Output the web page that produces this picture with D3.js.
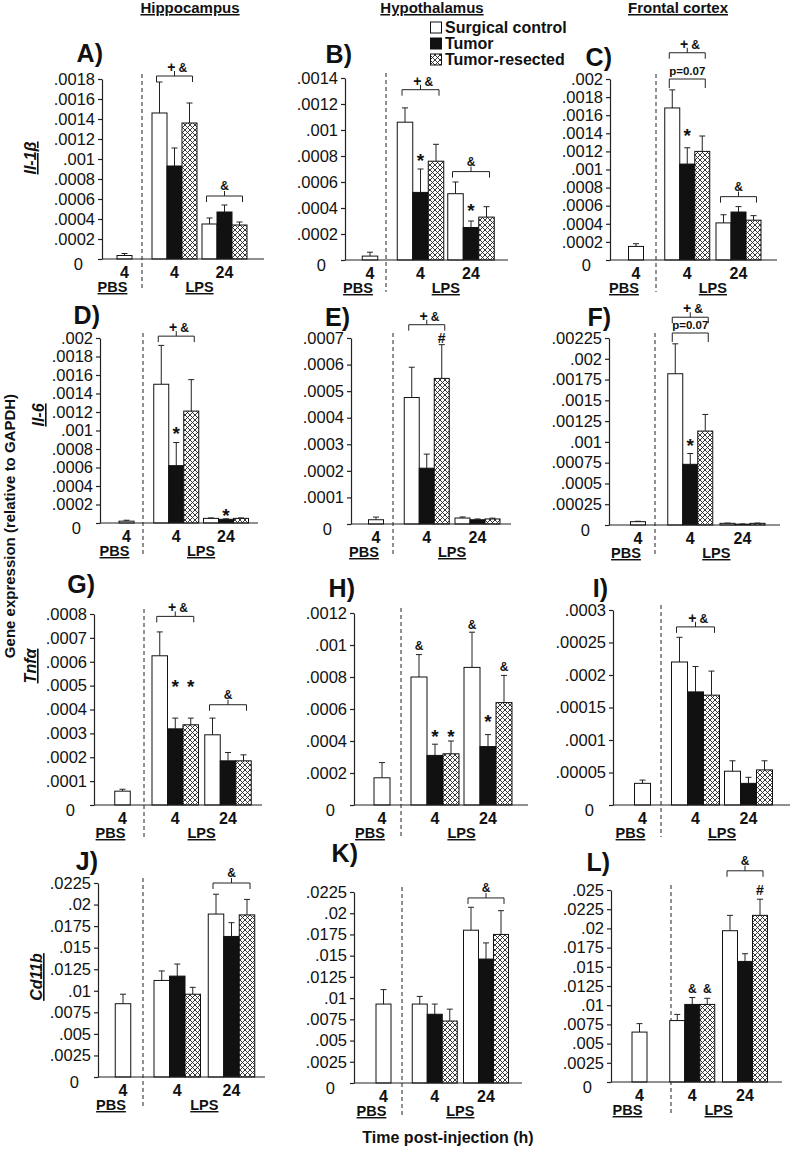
<!DOCTYPE html>
<html>
<head>
<meta charset="utf-8">
<script src="https://cdn.jsdelivr.net/npm/d3@7"></script>
<style>
body { margin: 0; background: #fff; }
svg text { font-family: "Liberation Sans", Arial, sans-serif; fill: #111; }
</style>
</head>
<body>
<svg id="chart" width="790" height="1149"></svg>
<script>
// ---- data ----
const regions = ["Hippocampus", "Hypothalamus", "Frontal cortex"];
const genes = ["Il-1\u03B2", "Il-6", "Tnf\u03B1", "Cd11b"];
const series = ["Surgical control", "Tumor", "Tumor-resected"];
const groups = ["PBS 4", "LPS 4", "LPS 24"];
const groupTicks = ["4", "4", "24"];
const panelIds = ["A", "B", "C", "D", "E", "F", "G", "H", "I", "J", "K", "L"];

const yMax  = [.0018, .0014, .002, .002, .0007, .00225, .0008, .0012, .0003, .0225, .0225, .025];
const yStep = [.0002, .0002, .0002, .0002, .0001, .00025, .0001, .0002, .00005, .0025, .0025, .0025];

// PBS 4h (surgical control only)
const pbsMean = [.000035, .00003, .00015, .00002, .000016, .00004, .000058, .00017, .0000333, .0085, .0093, .0065];
const pbsSem  = [.00002, .00003, .00003, .00001, .00001, .000005, .000008, .000095, .000005, .0011, .0017, .0011];

// LPS 4h: [surgical control, tumor, tumor-resected]
const lps4Mean = [
  [.00146, .00093, .00136], [.00106, .00052, .00076], [.00168, .00106, .0012],
  [.0015, .00062, .00121], [.000476, .00021, .000548], [.00182, .00073, .00113],
  [.000625, .000319, .000336], [.0008, .00031, .00032], [.00022, .000174, .000169],
  [.0112, .0117, .0096], [.0093, .0081, .0073], [.008, .0101, .0101]
];
const lps4Sem = [
  [.00031, .00018, .0002], [.00011, .00018, .00013], [.0002, .00018, .00017],
  [.00042, .00025, .00034], [.000114, .000053, .000127], [.00036, .00013, .0002],
  [.0001, .000045, .000028], [.00014, .00007, .00008], [.000038, .000039, .000037],
  [.0011, .0014, .0008], [.0009, .0012, .0014], [.0008, .0009, .0008]
];

// LPS 24h
const lps24Mean = [
  [.00035, .00047, .00034], [.00051, .00025, .00033], [.00041, .00053, .00044],
  [.00005, .00004, .00005], [.0000225, .000016, .000019], [.00002, .00001, .00002],
  [.000294, .000185, .000185], [.00086, .000365, .00064], [.000052, .0000333, .000054],
  [.0189, .0163, .0188], [.018, .0146, .0175], [.0197, .0157, .0217]
];
const lps24Sem = [
  [.00006, .00007, .00003], [.00009, .00005, .00008], [.00009, .00006, .00005],
  [.000005, .000005, .000005], [.000004, .000003, .000003], [.000003, .000003, .000003],
  [.00007, .000035, .000025], [.00022, .000075, .00017], [.000016, .0000093, .000014],
  [.0023, .0016, .0018], [.0027, .0019, .0028], [.002, .001, .0021]
];

// significance brackets (level in data units)
const brackets = [
  {panel: "A", group: "LPS 4", level: .00183, left: "+", right: "&"},
  {panel: "A", group: "LPS 24", level: .00063, label: "&"},
  {panel: "B", group: "LPS 4", level: .00131, left: "+", right: "&"},
  {panel: "B", group: "LPS 24", level: .00068, label: "&"},
  {panel: "C", group: "LPS 4", level: .00229, left: "+", right: "&"},
  {panel: "C", group: "LPS 4", level: .002, p: "p=0.07"},
  {panel: "C", group: "LPS 24", level: .0007, label: "&"},
  {panel: "D", group: "LPS 4", level: .00202, left: "+", right: "&"},
  {panel: "E", group: "LPS 4", level: .00075, left: "+", right: "&"},
  {panel: "F", group: "LPS 4", level: .0025, left: "+", right: "&"},
  {panel: "F", group: "LPS 4", level: .00231, p: "p=0.07"},
  {panel: "G", group: "LPS 4", level: .00079, left: "+", right: "&"},
  {panel: "G", group: "LPS 24", level: .00042, label: "&"},
  {panel: "I", group: "LPS 4", level: .000274, left: "+", right: "&"},
  {panel: "J", group: "LPS 24", level: .0225, label: "&"},
  {panel: "K", group: "LPS 24", level: .0218, label: "&"},
  {panel: "L", group: "LPS 24", level: .0275, label: "&"}
];

// marks over single bars (level = text baseline, data units)
const markers = [
  {panel: "B", group: "LPS 4", s: 1, text: "*", level: .000715},
  {panel: "B", group: "LPS 24", s: 1, text: "*", level: .00033},
  {panel: "C", group: "LPS 4", s: 1, text: "*", level: .0013},
  {panel: "D", group: "LPS 4", s: 1, text: "*", level: .0009},
  {panel: "D", group: "LPS 24", s: 1, text: "*", level: .00001},
  {panel: "E", group: "LPS 4", s: 2, text: "#", level: .00068},
  {panel: "F", group: "LPS 4", s: 1, text: "*", level: .00088},
  {panel: "G", group: "LPS 4", s: 1, text: "*", level: .00047},
  {panel: "G", group: "LPS 4", s: 2, text: "*", level: .00047},
  {panel: "H", group: "LPS 4", s: 0, text: "&", level: .00097},
  {panel: "H", group: "LPS 4", s: 1, text: "*", level: .00039},
  {panel: "H", group: "LPS 4", s: 2, text: "*", level: .00039},
  {panel: "H", group: "LPS 24", s: 0, text: "&", level: .0011},
  {panel: "H", group: "LPS 24", s: 1, text: "*", level: .00048},
  {panel: "H", group: "LPS 24", s: 2, text: "&", level: .00084},
  {panel: "L", group: "LPS 4", s: 1, text: "&", level: .0116},
  {panel: "L", group: "LPS 4", s: 2, text: "&", level: .0116},
  {panel: "L", group: "LPS 24", s: 2, text: "#", level: .0243}
];

// ---- layout ----
const layout = [
  {x0: 102, x1: 264, yTop: 79,  yZero: 259,  pbs: 124.5, c24: 224.5, dash: 142, bw: 15,   lx: 103, ly: 62},
  {x0: 345, x1: 508, yTop: 78,  yZero: 260,  pbs: 370,   c24: 471,   dash: 386, bw: 15.5, lx: 352, ly: 63},
  {x0: 610, x1: 777, yTop: 79,  yZero: 260,  pbs: 636,   c24: 738.5, dash: 656, bw: 15,   lx: 612, ly: 66},
  {x0: 100, x1: 258, yTop: 338, yZero: 523,  pbs: 126.5, c24: 226,   dash: 143, bw: 15,   lx: 100, ly: 324},
  {x0: 351, x1: 511, yTop: 338, yZero: 524,  pbs: 376,   c24: 477.5, dash: 393, bw: 15,   lx: 350, ly: 326},
  {x0: 609, x1: 780, yTop: 338, yZero: 525,  pbs: 638,   c24: 742.5, dash: 655, bw: 15,   lx: 611, ly: 326},
  {x0: 94,  x1: 262, yTop: 614, yZero: 805,  pbs: 122.5, c24: 228,   dash: 144, bw: 15.5, lx: 95,  ly: 593},
  {x0: 354, x1: 528, yTop: 613, yZero: 805,  pbs: 382,   c24: 488,   dash: 401, bw: 16,   lx: 355, ly: 597},
  {x0: 613, x1: 790, yTop: 610, yZero: 805,  pbs: 642.5, c24: 748.5, dash: 661, bw: 16,   lx: 608, ly: 597},
  {x0: 98,  x1: 265, yTop: 883, yZero: 1077, pbs: 123,   c24: 231.5, dash: 143, bw: 15.5, lx: 98,  ly: 870},
  {x0: 354, x1: 522, yTop: 892, yZero: 1083, pbs: 383.5, c24: 486,   dash: 402, bw: 15,   lx: 358, ly: 862},
  {x0: 611, x1: 782, yTop: 890, yZero: 1082, pbs: 639.5, c24: 745,   dash: 671, bw: 15,   lx: 610, ly: 871}
];
const regionX = [190, 432, 678];
const genePos = [[36, 158], [44, 415], [36, 666], [42, 977]];

const fills = ["#fff", "#111", "url(#hatch)"];
const fmt = d => d === 0 ? "0" : String(+d.toFixed(7)).replace(/^0\./, ".");

const svg = d3.select("#chart");

// crosshatch for tumor-resected
const pat = svg.append("defs").append("pattern")
    .attr("id", "hatch")
    .attr("patternUnits", "userSpaceOnUse")
    .attr("width", 5).attr("height", 5);
pat.append("rect").attr("width", 5).attr("height", 5).attr("fill", "#fff");
pat.append("path")
    .attr("d", "M-1,-1L6,6M6,-1L-1,6")
    .attr("stroke", "#222").attr("stroke-width", 0.9);

// column titles
svg.selectAll("text.region")
    .data(regions)
    .enter().append("text")
    .attr("class", "region")
    .attr("x", (d, i) => regionX[i])
    .attr("y", 13)
    .attr("text-anchor", "middle")
    .style("font-size", "15px").style("font-weight", "bold")
    .style("text-decoration", "underline")
    .text(d => d);

// gene names (rows)
svg.selectAll("text.gene")
    .data(genes)
    .enter().append("text")
    .attr("class", "gene")
    .attr("transform", (d, i) => `translate(${genePos[i][0]},${genePos[i][1]}) rotate(-90)`)
    .attr("text-anchor", "middle")
    .style("font-size", "16px").style("font-weight", "bold").style("font-style", "italic")
    .style("text-decoration", "underline")
    .text(d => d);

// shared axis titles
svg.append("text")
    .attr("transform", "translate(15,526) rotate(-90)")
    .attr("text-anchor", "middle")
    .style("font-size", "15px").style("font-weight", "bold")
    .text("Gene expression (relative to GAPDH)");
svg.append("text")
    .attr("x", 448).attr("y", 1143)
    .attr("text-anchor", "middle")
    .style("font-size", "16px").style("font-weight", "bold")
    .text("Time post-injection (h)");

// legend
const leg = svg.append("g").attr("transform", "translate(430,33)");
series.forEach((s, i) => {
    const row = leg.append("g").attr("transform", `translate(0,${i * 16})`);
    row.append("rect")
        .attr("x", 0.5).attr("y", -11).attr("width", 11).attr("height", 11)
        .attr("fill", fills[i]).attr("stroke", "#111").attr("stroke-width", 1);
    row.append("text")
        .attr("x", 15).attr("y", 0)
        .style("font-size", "16px").style("font-weight", "bold")
        .text(s);
});

panelIds.forEach((id, i) => {
    const L = layout[i];
    const g = svg.append("g").attr("class", "panel");

    const y = d3.scaleLinear().domain([0, yMax[i]]).range([L.yZero, L.yTop]);
    const x = d3.scalePoint().domain(groups).range([L.pbs, L.c24]);
    const xs = d3.scaleBand().domain(series).range([-1.5 * L.bw, 1.5 * L.bw]);

    const rows = [{group: "PBS 4", s: 0, mean: pbsMean[i], sem: pbsSem[i]}];
    series.forEach((s, k) => {
        rows.push({group: "LPS 4", s: k, mean: lps4Mean[i][k], sem: lps4Sem[i][k]});
        rows.push({group: "LPS 24", s: k, mean: lps24Mean[i][k], sem: lps24Sem[i][k]});
    });
    const barX = d => d.group === "PBS 4" ? x(d.group) - L.bw / 2 : x(d.group) + xs(series[d.s]);
    const barC = d => barX(d) + L.bw / 2;

    // dashed separator PBS | LPS
    g.append("line")
        .attr("x1", L.dash).attr("x2", L.dash)
        .attr("y1", L.yTop - 5).attr("y2", L.yZero + 32)
        .attr("stroke", "#222").attr("stroke-width", 1)
        .attr("stroke-dasharray", "4,3");

    // error bars (upper only)
    const eb = g.selectAll("g.err").data(rows).enter().append("g").attr("class", "err")
        .attr("stroke", "#222").attr("stroke-width", 1);
    eb.append("line")
        .attr("x1", barC).attr("x2", barC)
        .attr("y1", d => y(d.mean)).attr("y2", d => y(d.mean + d.sem));
    eb.append("line")
        .attr("x1", d => barC(d) - 3).attr("x2", d => barC(d) + 3)
        .attr("y1", d => y(d.mean + d.sem)).attr("y2", d => y(d.mean + d.sem));

    // bars
    g.selectAll("rect.bar").data(rows).enter().append("rect")
        .attr("class", "bar")
        .attr("x", barX)
        .attr("y", d => y(d.mean))
        .attr("width", L.bw)
        .attr("height", d => Math.max(0.5, L.yZero - y(d.mean)))
        .attr("fill", d => fills[d.s])
        .attr("stroke", "#111").attr("stroke-width", 1);

    // y axis
    const ax = g.append("g")
        .attr("transform", `translate(${L.x0},0)`)
        .call(d3.axisLeft(y)
            .tickValues(d3.range(0, yMax[i] + yStep[i] / 2, yStep[i]))
            .tickSize(4).tickSizeOuter(0).tickPadding(3)
            .tickFormat(fmt));
    ax.attr("font-family", null).attr("font-size", null);
    ax.selectAll("text").style("font-size", "16.5px");
    ax.selectAll("path, line").attr("stroke", "#222").attr("stroke-width", 1.2);
    ax.selectAll(".tick").filter(d => d === 0).select("text")
        .attr("transform", "translate(-12,5)");

    // x axis line
    g.append("line")
        .attr("x1", L.x0).attr("x2", L.x1)
        .attr("y1", L.yZero).attr("y2", L.yZero)
        .attr("stroke", "#222").attr("stroke-width", 1.2);

    // x tick labels
    g.selectAll("text.xt").data(groups).enter().append("text")
        .attr("class", "xt")
        .attr("x", d => x(d)).attr("y", L.yZero + 19)
        .attr("text-anchor", "middle")
        .style("font-size", "16px").style("font-weight", "bold")
        .text((d, k) => groupTicks[k]);
    const cond = [
        {t: "PBS", cx: x("PBS 4") - 12},
        {t: "LPS", cx: (x("LPS 4") + x("LPS 24")) / 2}
    ];
    g.selectAll("text.cond").data(cond).enter().append("text")
        .attr("class", "cond")
        .attr("x", d => d.cx).attr("y", L.yZero + 33)
        .attr("text-anchor", "middle")
        .style("font-size", "14.5px").style("font-weight", "bold")
        .style("text-decoration", "underline")
        .text(d => d.t);

    // panel letter
    g.append("text")
        .attr("x", L.lx).attr("y", L.ly)
        .attr("text-anchor", "end")
        .style("font-size", "25px").style("font-weight", "bold")
        .text(id + ")");

    // brackets
    brackets.filter(b => b.panel === id).forEach(b => {
        const xa = x(b.group) + xs(series[0]) + L.bw / 2 - 3;
        const xb = x(b.group) + xs(series[2]) + L.bw / 2 + 3;
        const xm = (xa + xb) / 2;
        const yl = y(b.level);
        const drop = b.p ? 9 : 6;
        g.append("path")
            .attr("d", `M${xa},${yl + drop}V${yl}H${xb}V${yl + drop}`)
            .attr("fill", "none").attr("stroke", "#222").attr("stroke-width", 1);
        if (b.p) {
            g.append("text").attr("x", xm).attr("y", yl - 4)
                .attr("text-anchor", "middle")
                .style("font-size", "11.5px").style("font-weight", "bold")
                .text(b.p);
            return;
        }
        g.append("line")
            .attr("x1", xm).attr("x2", xm).attr("y1", yl).attr("y2", yl - 5)
            .attr("stroke", "#222").attr("stroke-width", 1);
        if (b.label) {
            g.append("text").attr("x", xm).attr("y", yl - 6)
                .attr("text-anchor", "middle")
                .style("font-size", "12px").style("font-weight", "bold")
                .text(b.label);
        } else {
            g.append("text").attr("x", xm + 1).attr("y", yl - 4)
                .attr("text-anchor", "end")
                .style("font-size", "14px").style("font-weight", "bold")
                .text(b.left);
            g.append("text").attr("x", xm + 4).attr("y", yl - 4)
                .style("font-size", "12px").style("font-weight", "bold")
                .text(b.right);
        }
    });

    // markers over bars
    const mk = markers.filter(m => m.panel === id);
    g.selectAll("text.mk").data(mk).enter().append("text")
        .attr("class", "mk")
        .attr("x", d => x(d.group) + xs(series[d.s]) + L.bw / 2)
        .attr("y", d => y(d.level))
        .attr("text-anchor", "middle")
        .style("font-weight", "bold")
        .style("font-size", d => d.text === "*" ? "19px" : d.text === "#" ? "14px" : "12px")
        .text(d => d.text);
});
</script>
</body>
</html>
